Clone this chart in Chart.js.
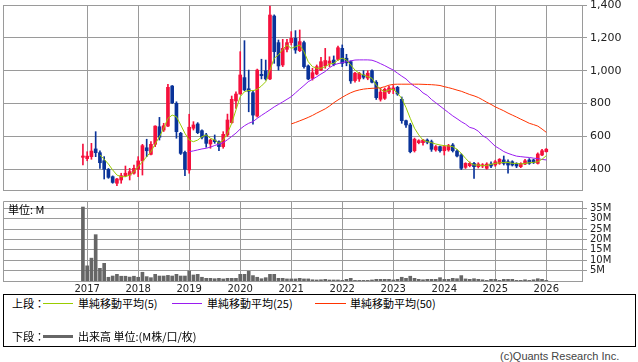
<!DOCTYPE html>
<html><head><meta charset="utf-8">
<script src="https://cdn.jsdelivr.net/npm/chart.js@4.4.1/dist/chart.umd.min.js"></script>
<style>
html,body{margin:0;padding:0;background:#fff;}
body{width:638px;height:362px;position:relative;overflow:hidden;font-family:"DejaVu Sans",sans-serif;}
canvas{position:absolute;left:0;}
#pc{top:0;}
#vc{top:196px;}
.t{position:absolute;font-family:"Noto Sans CJK JP",sans-serif;font-size:11px;line-height:14px;color:#000;white-space:nowrap;}
.ln{position:absolute;height:1px;}
#box{position:absolute;left:3px;top:294px;width:633px;height:53px;border:1px solid #000;box-sizing:border-box;}
#copy{position:absolute;left:500px;top:350px;font-family:"Liberation Sans",sans-serif;font-size:11px;line-height:13px;color:#444;white-space:nowrap;}
</style>
</head><body>
<canvas id="pc" width="638" height="195"></canvas>
<canvas id="vc" width="638" height="98"></canvas>
<div class="t" style="left:8px;top:202px;">単位: M</div>
<div id="box"></div>
<div class="t" style="left:12px;top:296px;">上段：</div>
<div class="ln" style="left:43px;width:30px;top:303px;background:#99cc00;"></div>
<div class="t" style="left:78px;top:296px;">単純移動平均(5)</div>
<div class="ln" style="left:172px;width:30px;top:303px;background:#9a1cf0;"></div>
<div class="t" style="left:207px;top:296px;">単純移動平均(25)</div>
<div class="ln" style="left:315px;width:31px;top:303px;background:#ff3300;"></div>
<div class="t" style="left:350px;top:296px;">単純移動平均(50)</div>
<div class="t" style="left:12px;top:329px;">下段：</div>
<div class="ln" style="left:43px;width:30px;top:335px;height:3px;background:#666;"></div>
<div class="t" style="left:78px;top:329px;">出来高 単位:(M株/口/枚)</div>
<div id="copy">(c)Quants Research Inc.</div>
<script>
const months = [
'2016-12',
'2017-01','2017-02','2017-03','2017-04','2017-05','2017-06','2017-07','2017-08','2017-09','2017-10','2017-11','2017-12',
'2018-01','2018-02','2018-03','2018-04','2018-05','2018-06','2018-07','2018-08','2018-09','2018-10','2018-11','2018-12',
'2019-01','2019-02','2019-03','2019-04','2019-05','2019-06','2019-07','2019-08','2019-09','2019-10','2019-11','2019-12',
'2020-01','2020-02','2020-03','2020-04','2020-05','2020-06','2020-07','2020-08','2020-09','2020-10','2020-11','2020-12',
'2021-01','2021-02','2021-03','2021-04','2021-05','2021-06','2021-07','2021-08','2021-09','2021-10','2021-11','2021-12',
'2022-01','2022-02','2022-03','2022-04','2022-05','2022-06','2022-07','2022-08','2022-09','2022-10','2022-11','2022-12',
'2023-01','2023-02','2023-03','2023-04','2023-05','2023-06','2023-07','2023-08','2023-09','2023-10','2023-11','2023-12',
'2024-01','2024-02','2024-03','2024-04','2024-05','2024-06','2024-07','2024-08','2024-09','2024-10','2024-11','2024-12',
'2025-01','2025-02','2025-03','2025-04','2025-05','2025-06','2025-07','2025-08','2025-09','2025-10','2025-11','2025-12',
'2026-01'];

const open = [473,
465,477,524,501,452,400,355,315,335,361,365,376,
400,451,531,491,552,659,639,663,907,802,619,503,
396,650,676,635,609,554,578,568,538,609,684,816,
858,958,890,866,724,978,1000,950,1333,1171,1035,1130,
1171,1197,1122,1171,1029,954,980,1004,1030,1045,1065,1069,
1136,1076,1055,940,950,975,955,1000,930,826,832,870,
885,899,826,696,670,513,562,562,578,568,518,538,
513,518,548,511,487,412,422,436,416,420,406,432,
426,436,457,446,446,436,416,432,457,457,436,487,
507];
const high = [554,
507,558,629,513,477,405,360,345,376,420,406,426,
477,552,583,568,665,716,680,917,910,811,625,511,
735,690,684,640,619,583,609,574,629,736,846,872,
1116,1183,1004,878,1010,1070,1065,1394,1340,1187,1191,1191,
1238,1244,1248,1180,1035,1015,1035,1082,1136,1085,1090,1150,
1157,1100,1060,990,990,1000,1000,1005,940,893,895,905,
910,905,840,700,680,590,580,583,585,578,545,542,
545,552,557,520,495,440,445,442,440,435,440,445,
455,465,481,457,452,440,440,460,465,462,500,522,
527];
const low = [426,
452,461,477,406,341,345,315,300,315,355,335,370,
355,365,477,487,538,578,630,659,800,589,490,361,
376,639,617,585,534,528,558,513,528,600,680,771,
858,878,750,674,718,950,943,945,1045,1004,1025,1114,
1157,1106,1116,1015,945,943,975,1000,1015,1025,1030,1062,
1025,1030,923,930,935,950,945,925,825,815,825,860,
860,850,680,655,500,505,555,547,555,509,510,505,
487,510,505,475,398,405,415,345,408,410,400,410,
418,430,426,376,420,410,410,428,430,435,432,483,
505];
const close = [481,
480,511,501,440,400,351,320,341,361,376,386,406,
451,544,513,552,663,595,665,899,805,629,497,400,
656,670,623,595,558,578,568,538,613,700,826,858,
974,883,875,730,1004,970,950,1339,1116,1029,1136,1171,
1197,1126,1177,1025,950,988,1025,1055,1062,1059,1039,1140,
1045,1048,938,985,985,960,985,930,836,870,887,895,
895,858,696,670,507,583,574,578,565,522,538,513,
538,544,513,481,406,436,436,416,432,428,432,420,
446,461,436,426,426,420,436,452,436,440,493,513,
522];
const volume = [35.6,
7.3,11,22.3,6.1,8.5,1.8,2.4,3.2,2.3,2.3,1.9,2.3,
1.8,4.2,2.1,1.6,3.2,2.4,2.4,2.7,2.4,3.2,2.4,2.4,
4.8,2.9,3.2,1.8,1.3,1.3,1.1,1.3,1.0,1.3,1.3,1.3,
3.2,3.2,4.7,2.6,1.8,1.1,1.6,3.2,3.2,1.3,1.3,1.0,
1.0,1.0,1.3,1.0,1.0,0.6,0.5,0.6,0.8,0.5,0.5,0.5,
0.3,0.8,1.3,0.3,0.3,0.3,0.3,0.5,0.8,0.8,0.8,0.8,
0.5,0.8,1.8,1.3,2.3,1.3,0.8,0.6,0.8,0.8,0.8,1.6,
0.8,0.8,1.3,1.1,2.6,1.0,0.8,1.1,0.8,0.6,0.3,0.8,
0.8,0.3,0.8,0.8,0.8,0.3,0.3,0.6,0.3,0.6,1.1,0.8,
0.3];
const ma5 = [null,
null,null,null,487,461,432,396,365,355,355,365,385,
416,446,477,507,554,598,650,710,730,720,670,619,
578,568,578,598,609,589,578,558,578,619,680,761,
842,872,880,878,887,907,933,1004,1076,1096,1130,1157,
1136,1146,1157,1116,1055,1025,1015,1015,1025,1041,1045,1065,
1076,1065,1035,1004,984,974,964,954,913,887,872,883,
887,863,832,776,710,650,609,578,568,562,554,548,
544,542,538,522,497,467,440,426,426,422,424,430,
436,440,442,442,436,436,432,436,440,442,446,461,
483];
const ma25 = [null,
null,null,null,null,null,null,null,null,null,null,null,null,
null,null,null,null,null,null,null,null,null,null,null,null,
507,512,518,524,528,535,545,553,562,580,600,620,
645,665,680,690,710,728,745,762,780,795,810,826,
842,865,888,910,933,948,963,980,995,1018,1035,1043,
1049,1055,1060,1065,1066,1066,1066,1064,1055,1043,1031,1017,
1004,985,967,950,925,905,890,865,850,825,805,785,
765,745,725,708,690,675,655,648,632,605,590,565,
540,525,508,497,488,480,477,474,472,468,465,460,
457];
const ma50 = [null,
null,null,null,null,null,null,null,null,null,null,null,null,
null,null,null,null,null,null,null,null,null,null,null,null,
null,null,null,null,null,null,null,null,null,null,null,null,
null,null,null,null,null,null,null,null,null,null,null,null,
676,685,695,705,716,728,742,755,768,785,805,822,
838,853,866,876,883,888,891,893,894,896,903,912,
917,918,918,918,918,918,918,917,916,915,913,910,
903,897,890,882,875,865,855,847,837,823,808,795,
780,768,756,742,730,718,705,693,680,672,663,645,
625];
const yearLabels = ['2017','2018','2019','2020','2021','2022','2023','2024','2025','2026'];
const priceTicks = [400,600,800,1000,1200,1400];
const volumeTicks = [5,10,15,20,25,30,35];

// month position on a linear axis (0 = 2017-01)
const xs = months.map(s => { const [y, m] = s.split('-').map(Number); return (y - 2017) * 12 + (m - 1); });
const yearX = yearLabels.map(y => (Number(y) - 2017) * 12);

const UP = '#f5103c', DOWN = '#0a3399', GRID = '#9a9a9a';
const candleColor = xs.map((_, i) => close[i] >= open[i] ? UP : DOWN);

const framePlugin = {
  id: 'frame',
  beforeDatasetsDraw(chart) {
    const {ctx, chartArea: {left, top, right, bottom}} = chart;
    ctx.save();
    ctx.strokeStyle = GRID; ctx.lineWidth = 1;
    ctx.beginPath();
    ctx.moveTo(Math.round(left) + 0.5, Math.round(bottom));
    ctx.lineTo(Math.round(left) + 0.5, Math.round(top) + 0.5);
    ctx.lineTo(Math.round(right), Math.round(top) + 0.5);
    ctx.stroke();
    ctx.restore();
  }
};

const X_MIN = -19.8, X_MAX = 116.4;
function xScale(showLabels, h) {
  return {
    type: 'linear', min: X_MIN, max: X_MAX, offset: false,
    afterBuildTicks: s => { s.ticks = yearX.map(v => ({value: v})); },
    afterFit: s => { s.height = h; s.paddingLeft = 0; s.paddingRight = 0; },
    grid: {color: GRID, drawTicks: false, offset: false, lineWidth: 1},
    border: {display: true, color: GRID},
    ticks: {display: showLabels, padding: 2, color: '#222', maxRotation: 0, autoSkip: false,
      font: {family: 'DejaVu Sans', size: 10},
      callback: (v, i) => yearLabels[i]}
  };
}
function yScale(min, max, tickList, fmt, font) {
  return {
    position: 'right', min, max,
    afterBuildTicks: s => { s.ticks = tickList.map(v => ({value: v})); },
    afterFit: s => { s.width = 56; s.paddingTop = 0; s.paddingBottom = 0; },
    grid: {color: GRID, tickLength: 5, drawTicks: true, lineWidth: 1},
    border: {display: true, color: GRID},
    ticks: {padding: 3, color: '#222', font, autoSkip: false, callback: fmt}
  };
}

Chart.defaults.animation = false;

new Chart(document.getElementById('pc'), {
  type: 'bar',
  data: {
    datasets: [
      {type: 'line', label: '単純移動平均(5)', data: xs.map((x, i) => ({x, y: ma5[i]})),
       borderColor: '#99cc00', borderWidth: 1, pointRadius: 0, tension: 0, spanGaps: false, order: 0},
      {type: 'line', label: '単純移動平均(25)', data: xs.map((x, i) => ({x, y: ma25[i]})),
       borderColor: '#9a1cf0', borderWidth: 1, pointRadius: 0, tension: 0, spanGaps: false, order: 0},
      {type: 'line', label: '単純移動平均(50)', data: xs.map((x, i) => ({x, y: ma50[i]})),
       borderColor: '#ff3300', borderWidth: 1, pointRadius: 0, tension: 0, spanGaps: false, order: 0},
      {type: 'bar', label: 'body', data: xs.map((x, i) => ({x, y: [open[i], close[i]]})),
       backgroundColor: candleColor, borderWidth: 0, barThickness: 3, minBarLength: 1, grouped: false, order: 1},
      {type: 'bar', label: 'wick', data: xs.map((x, i) => ({x, y: [low[i], high[i]]})),
       backgroundColor: candleColor, borderWidth: 0, barThickness: 1, grouped: false, order: 2}
    ]
  },
  options: {
    responsive: false, devicePixelRatio: 1, events: [],
    layout: {padding: {left: 3, top: 5, right: 0, bottom: 5}},
    plugins: {legend: {display: false}, tooltip: {enabled: false}},
    scales: {
      x: xScale(false, 0),
      y: yScale(274, 1400, priceTicks, v => v.toLocaleString('en-US'), {family: 'DejaVu Sans', size: 11})
    }
  },
  plugins: [framePlugin]
});

new Chart(document.getElementById('vc'), {
  type: 'bar',
  data: {
    datasets: [
      {label: '出来高', data: xs.map((x, i) => ({x, y: volume[i]})),
       backgroundColor: '#666666', borderWidth: 0, barThickness: 3, grouped: false}
    ]
  },
  options: {
    responsive: false, devicePixelRatio: 1, events: [],
    layout: {padding: {left: 3, top: 5, right: 0, bottom: 0}},
    plugins: {legend: {display: false}, tooltip: {enabled: false}},
    scales: {
      x: xScale(true, 13),
      y: yScale(0, 38.5, volumeTicks, v => v + 'M', {family: 'DejaVu Sans', size: 10})
    }
  },
  plugins: [framePlugin]
});
</script>
</body></html>
